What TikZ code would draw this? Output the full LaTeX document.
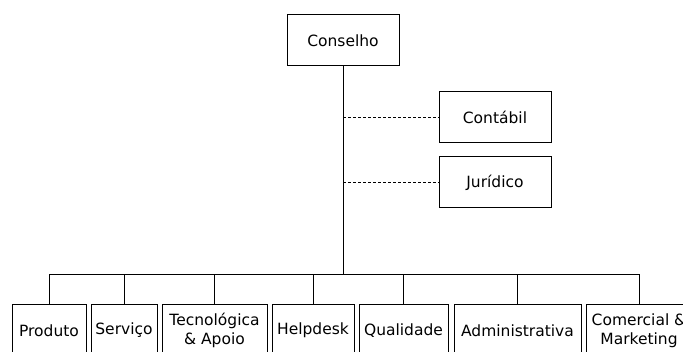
\documentclass[tikz,border=0pt]{standalone}
\usepackage{fontspec}
\setmainfont{DejaVu Sans}
\begin{document}
\begin{tikzpicture}[x=1pt,y=-1pt,
  box/.style={draw, line width=1pt, inner sep=0pt, align=center, minimum height=51pt, font=\fontsize{15.5}{19}\selectfont},
  conn/.style={line width=1pt},
  dconn/.style={line width=1pt, dash pattern=on 3pt off 2pt}]
\useasboundingbox (0,0) rectangle (683,352);
\clip (0,0) rectangle (683,352);
\node[box, minimum width=112pt] (cons) at (343,40.5) {Conselho};
\node[box, minimum width=112pt] (cont) at (495,117.5) {Contábil};
\node[box, minimum width=112pt] (jur) at (495,182.5) {Jurídico};
\node[box, minimum width=74pt] (prod) at (49,330.5) {Produto};
\node[box, minimum width=66pt] (serv) at (124,330.5) {Serviço};
\node[box, minimum width=105pt] (tec) at (214.5,330.5) {Tecnológica\\\& Apoio};
\node[box, minimum width=82pt] (help) at (313,330.5) {Helpdesk};
\node[box, minimum width=89pt] (qual) at (403.5,330.5) {Qualidade};
\node[box, minimum width=127pt] (adm) at (517.5,330.5) {Administrativa};
\node[box, minimum width=106pt] (com) at (639,330.5) {Comercial \&\\Marketing};
\coordinate (bus) at (343,275);
\draw[conn] (cons.south) -- (bus);
\draw[dconn] (cons.south |- cont.west) -- (cont.west);
\draw[dconn] (cons.south |- jur.west) -- (jur.west);
\draw[conn] (prod.north) -- (prod.north |- bus) -| (com.north);
\foreach \n in {serv,tec,help,qual,adm}
  \draw[conn] (\n.north) -- (\n.north |- bus);
\end{tikzpicture}
\end{document}
